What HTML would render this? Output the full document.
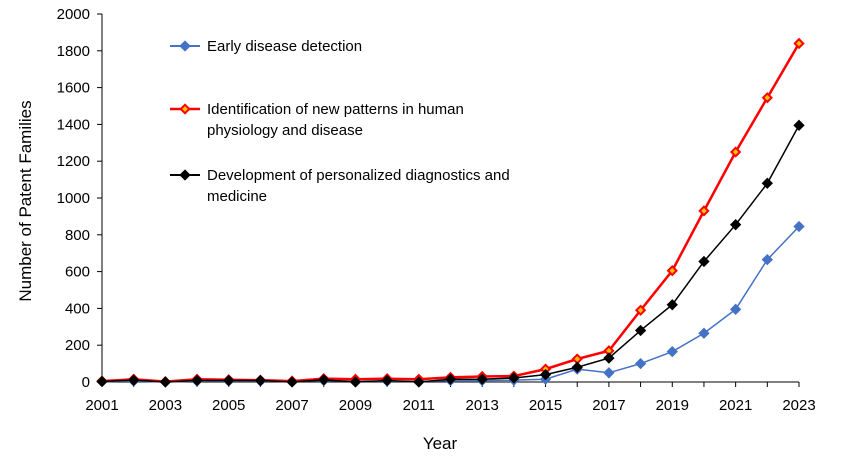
<!DOCTYPE html>
<html><head><meta charset="utf-8"><style>
html,body{margin:0;padding:0;background:#fff;}
svg{display:block;font-family:"Liberation Sans",Arial,sans-serif;}
</style></head><body>
<svg id="s" width="841" height="473" viewBox="0 0 841 473" xmlns="http://www.w3.org/2000/svg">
<g id="ax" font-size="15" fill="#000"></g>
<text x="440" y="449" font-size="17" text-anchor="middle">Year</text>
<text transform="translate(31,201) rotate(-90)" font-size="17" text-anchor="middle">Number of Patent Families</text>
<g id="ser"></g>
<g font-size="15">
<line x1="170" y1="46" x2="200" y2="46" stroke="#4472C4" stroke-width="2"/>
<rect x="181" y="42" width="8" height="8" fill="#4472C4" transform="rotate(45 185 46)"/>
<text x="207" y="51">Early disease detection</text>
<line x1="170" y1="109" x2="200" y2="109" stroke="#FF0000" stroke-width="2.5"/>
<rect x="181" y="105" width="8" height="8" fill="#FF0000" transform="rotate(45 185 109)"/>
<rect x="183" y="107" width="4" height="4" fill="#FFC000" transform="rotate(45 185 109)"/>
<text x="207" y="114">Identification of new patterns in human</text>
<text x="207" y="135">physiology and disease</text>
<line x1="170" y1="175" x2="200" y2="175" stroke="#000" stroke-width="2"/>
<rect x="181" y="171" width="8" height="8" fill="#000" transform="rotate(45 185 175)"/>
<text x="207" y="180">Development of personalized diagnostics and</text>
<text x="207" y="201">medicine</text>
</g>
</svg>
<script>
var NS="http://www.w3.org/2000/svg";
function el(p,t,a){var e=document.createElementNS(NS,t);for(var k in a)e.setAttribute(k,a[k]);p.appendChild(e);return e;}
var x0=102,x1=799,y0=382,y1=14;
function X(i){return x0+(x1-x0)*i/22;}
function Y(v){return y0-(y0-y1)*v/2000;}
var ax=document.getElementById("ax");
el(ax,"line",{x1:x0,y1:y1,x2:x0,y2:y0,stroke:"#000","stroke-width":1});
el(ax,"line",{x1:x0,y1:y0,x2:x1,y2:y0,stroke:"#000","stroke-width":1});
for(var v=0;v<=2000;v+=200){var y=Y(v);el(ax,"line",{x1:x0-5,y1:y,x2:x0,y2:y,stroke:"#000"});
var t=el(ax,"text",{x:90,y:y+5,"text-anchor":"end"});t.textContent=v;}
for(var i=0;i<=22;i++){var x=X(i);el(ax,"line",{x1:x,y1:y0,x2:x,y2:y0+5,stroke:"#000"});
if(i%2==0){var t=el(ax,"text",{x:x,y:410,"text-anchor":"middle"});t.textContent=2001+i;}}
var blue=[2,5,0,5,5,5,3,8,3,5,3,8,8,10,15,70,50,100,165,265,395,665,845];
var red=[5,15,2,15,12,10,5,18,15,18,15,25,30,32,70,125,170,390,605,930,1250,1545,1840];
var blk=[3,10,0,8,8,8,0,12,0,8,0,15,15,22,40,80,130,280,420,655,855,1080,1395];
var g=document.getElementById("ser");
function series(d,c,w,inner){var p=d.map(function(v,i){return X(i)+","+Y(v)}).join(" ");
el(g,"polyline",{points:p,fill:"none",stroke:c,"stroke-width":w});
d.forEach(function(v,i){var x=X(i),y=Y(v);
el(g,"rect",{x:x-4,y:y-4,width:8,height:8,fill:c,transform:"rotate(45 "+x+" "+y+")"});
if(inner)el(g,"rect",{x:x-2,y:y-2,width:4,height:4,fill:inner,transform:"rotate(45 "+x+" "+y+")"});});}
series(blue,"#4472C4",1.5);
series(red,"#FF0000",2.5,"#FFC000");
series(blk,"#000",1.5);
</script>
</body></html>
